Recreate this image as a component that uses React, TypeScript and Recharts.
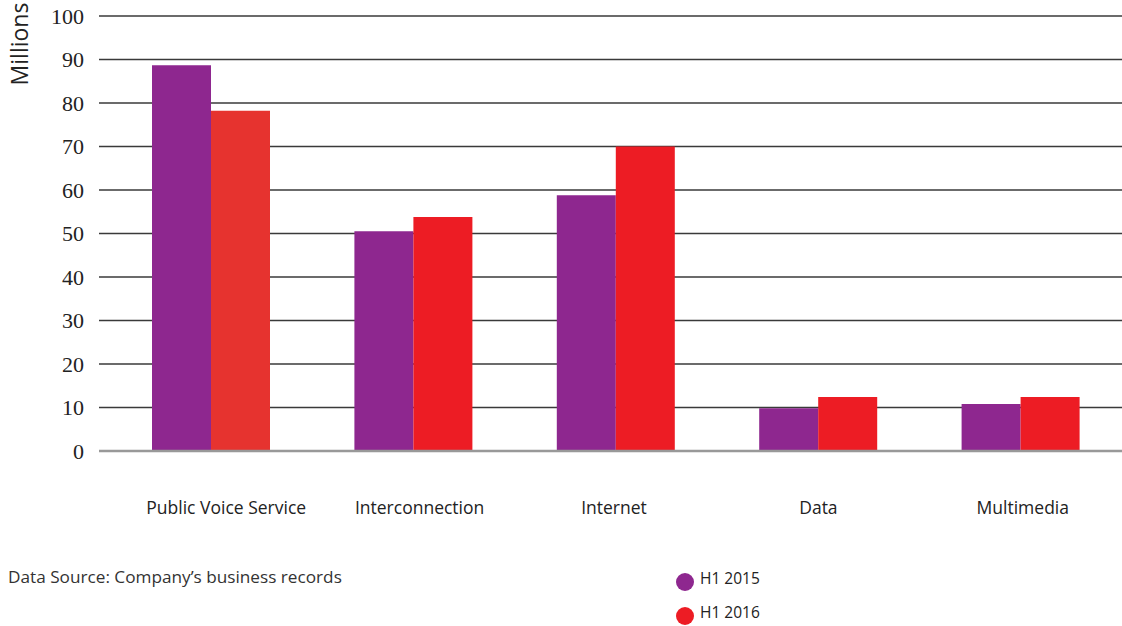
import React from "react";
import { BarChart, Bar, XAxis, YAxis, CartesianGrid, ReferenceLine, Cell } from "recharts";

const categories = ["Public Voice Service", "Interconnection", "Internet", "Data", "Multimedia"];
const h12015 = [88.7, 50.5, 58.8, 9.8, 10.8];
const h12016 = [78.2, 53.8, 70.0, 12.4, 12.4];
const yTicks = [0, 10, 20, 30, 40, 50, 60, 70, 80, 90, 100];
const seriesNames = ["H1 2015", "H1 2016"];
const sourceNote = "Data Source: Company\u2019s business records";
const yTitle = "Millions";

// small horizontal nudges of the category labels (presentation only)
const labelNudge = [15, 6, -2, 0, 2];

const PURPLE = "#8E278F";
const RED = "#ED1C24";
const RED_FIRST = "#E6332F";

const data = categories.map((c, i) => ({ name: c, a: h12015[i], b: h12016[i] }));

const SANS = "'Open Sans', sans-serif";
const SERIF = "'Liberation Serif', 'DejaVu Serif', serif";

const YTick = (props: any) => {
  const { y, payload } = props;
  return (
    <text x={84} y={y} textAnchor="end" dominantBaseline="central" fontFamily={SERIF} fontSize={22} style={{ fontFamily: SERIF, fontSize: 22 }} fill="#222">
      {payload.value}
    </text>
  );
};

const XTick = (props: any) => {
  const { x, payload, index } = props;
  return (
    <text x={x + (labelNudge[index] || 0)} y={507} textAnchor="middle" dominantBaseline="central" style={{ fontFamily: SANS, fontSize: 17.5 }} fill="#222">
      {payload.value}
    </text>
  );
};

export default function App() {
  return (
    <div style={{ position: "absolute", left: 0, top: 0, width: 1122, height: 626, background: "#fff" }}>
      <BarChart
        width={1122}
        height={626}
        data={data}
        margin={{ top: 16, right: 0, bottom: 145, left: 0 }}
        barGap={0}
        barSize={59}
      >
        <CartesianGrid vertical={false} stroke="#3a3a3a" strokeWidth={1.3} />
        <XAxis dataKey="name" axisLine={false} tickLine={false} height={30} tick={<XTick />} padding={{ left: 11, right: 0 }} interval={0} />
        <YAxis
          width={99}
          domain={[0, 100]}
          ticks={yTicks}
          axisLine={false}
          tickLine={false}
          tick={<YTick />}
          interval={0}
        />
        <Bar dataKey="a" fill={PURPLE} isAnimationActive={false} />
        <Bar dataKey="b" fill={RED} isAnimationActive={false}>
          {data.map((d, i) => (
            <Cell key={d.name} fill={i === 0 ? RED_FIRST : RED} />
          ))}
        </Bar>
        <ReferenceLine y={0} stroke="#999" strokeWidth={2.5} />
      </BarChart>
      <div
        style={{
          position: "absolute",
          left: 19,
          top: 44,
          transform: "translate(-50%, -50%) rotate(-90deg)",
          fontFamily: SANS,
          fontSize: 23,
          lineHeight: "24px",
          color: "#222",
          whiteSpace: "nowrap",
        }}
      >
        {yTitle}
      </div>
      <div style={{ position: "absolute", left: 8, top: 565, fontFamily: SANS, fontSize: 17.2, color: "#333", whiteSpace: "nowrap" }}>
        {sourceNote}
      </div>
      {seriesNames.map((n, i) => (
        <div key={n} style={{ position: "absolute", left: 676, top: 572 + i * 34, height: 20, display: "flex", alignItems: "center" }}>
          <span style={{ display: "inline-block", width: 18, height: 18, borderRadius: 9, background: i === 0 ? PURPLE : RED }} />
          <span style={{ marginLeft: 6, fontFamily: SANS, fontSize: 15.5, color: "#222", whiteSpace: "nowrap", position: "relative", top: -4 }}>{n}</span>
        </div>
      ))}
    </div>
  );
}
